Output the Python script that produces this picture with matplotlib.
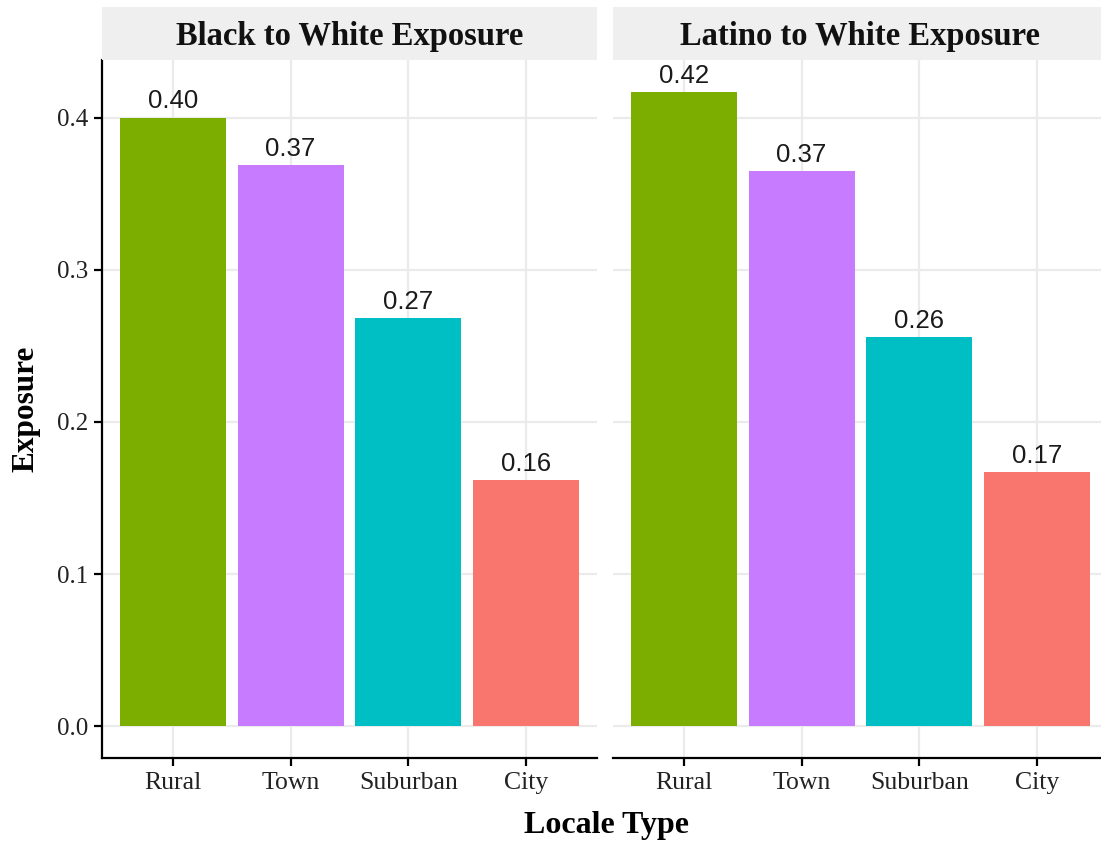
import matplotlib
matplotlib.use("Agg")
import matplotlib.pyplot as plt
from matplotlib.patches import Rectangle

categories = ["Rural", "Town", "Suburban", "City"]
panels = ["Black to White Exposure", "Latino to White Exposure"]
black_vals = [0.400, 0.369, 0.268, 0.162]
latino_vals = [0.417, 0.365, 0.256, 0.167]
labels_black = ["0.40", "0.37", "0.27", "0.16"]
labels_latino = ["0.42", "0.37", "0.26", "0.17"]
colors = ["#7CAE00", "#C77CFF", "#00BFC4", "#F8766D"]
yticks = [0.0, 0.1, 0.2, 0.3, 0.4]

serif = ["Liberation Serif", "DejaVu Serif"]
sans = ["Liberation Sans", "DejaVu Sans"]

fig = plt.figure(figsize=(11.01, 8.42), dpi=100)
W, H = 1101, 842

def fx(px): return px / W
def fy(py): return 1 - py / H

panel_lefts = [102, 613]
pw = 495
top, bottom = 60, 758
strip_top = 7

ymax = max(max(black_vals), max(latino_vals))
ylim = (-0.05 * ymax, 1.05 * ymax)

for i, (title, vals, labs) in enumerate(zip(panels, [black_vals, latino_vals], [labels_black, labels_latino])):
    ax = fig.add_axes([fx(panel_lefts[i]), fy(bottom), pw / W, (bottom - top) / H])
    x = list(range(1, len(categories) + 1))
    ax.set_axisbelow(True)
    ax.grid(True, color="#EBEBEB", linewidth=1.6)
    ax.bar(x, vals, width=0.9, color=colors, zorder=2)
    for xi, v, lab in zip(x, vals, labs):
        ax.annotate(lab, (xi, v), xytext=(0, 3), textcoords="offset points",
                    ha="center", va="bottom", fontsize=18.5, family=sans, color="#1a1a1a")
    ax.set_xlim(0.4, 4.6)
    ax.set_ylim(*ylim)
    ax.set_xticks(x)
    ax.set_xticklabels(categories, fontsize=18.5, family=serif, color="#222222")
    ax.set_yticks(yticks)
    for s in ["top", "right"]:
        ax.spines[s].set_visible(False)
    ax.spines["bottom"].set_linewidth(1.6)
    ax.tick_params(axis="x", length=6, width=1.6, pad=4)
    if i == 0:
        ax.spines["left"].set_linewidth(1.6)
        ax.set_yticklabels([f"{t:.1f}" for t in yticks], fontsize=18, family=serif, color="#222222")
        ax.tick_params(axis="y", length=6, width=1.6, pad=4)
        ax.set_ylabel("Exposure", fontsize=22.5, family=serif, fontweight="bold", labelpad=12)
    else:
        ax.spines["left"].set_visible(False)
        ax.tick_params(axis="y", length=0, labelleft=False)
    # strip
    sax = fig.add_axes([fx(panel_lefts[i]), fy(top), pw / W, (top - strip_top) / H])
    sax.set_xlim(0, 1); sax.set_ylim(0, 1)
    sax.add_patch(Rectangle((0, 0), 1, 1, facecolor="#EFEFEF", edgecolor="none"))
    sax.axis("off")
    sax.text(0.5, 0.45, title, ha="center", va="center", fontsize=23.5,
             family=serif, fontweight="bold", color="#111111")

fig.text(fx(606), fy(825), "Locale Type", ha="center", va="center", fontsize=23,
         family=serif, fontweight="bold")

fig.savefig("out.png", dpi=100)
